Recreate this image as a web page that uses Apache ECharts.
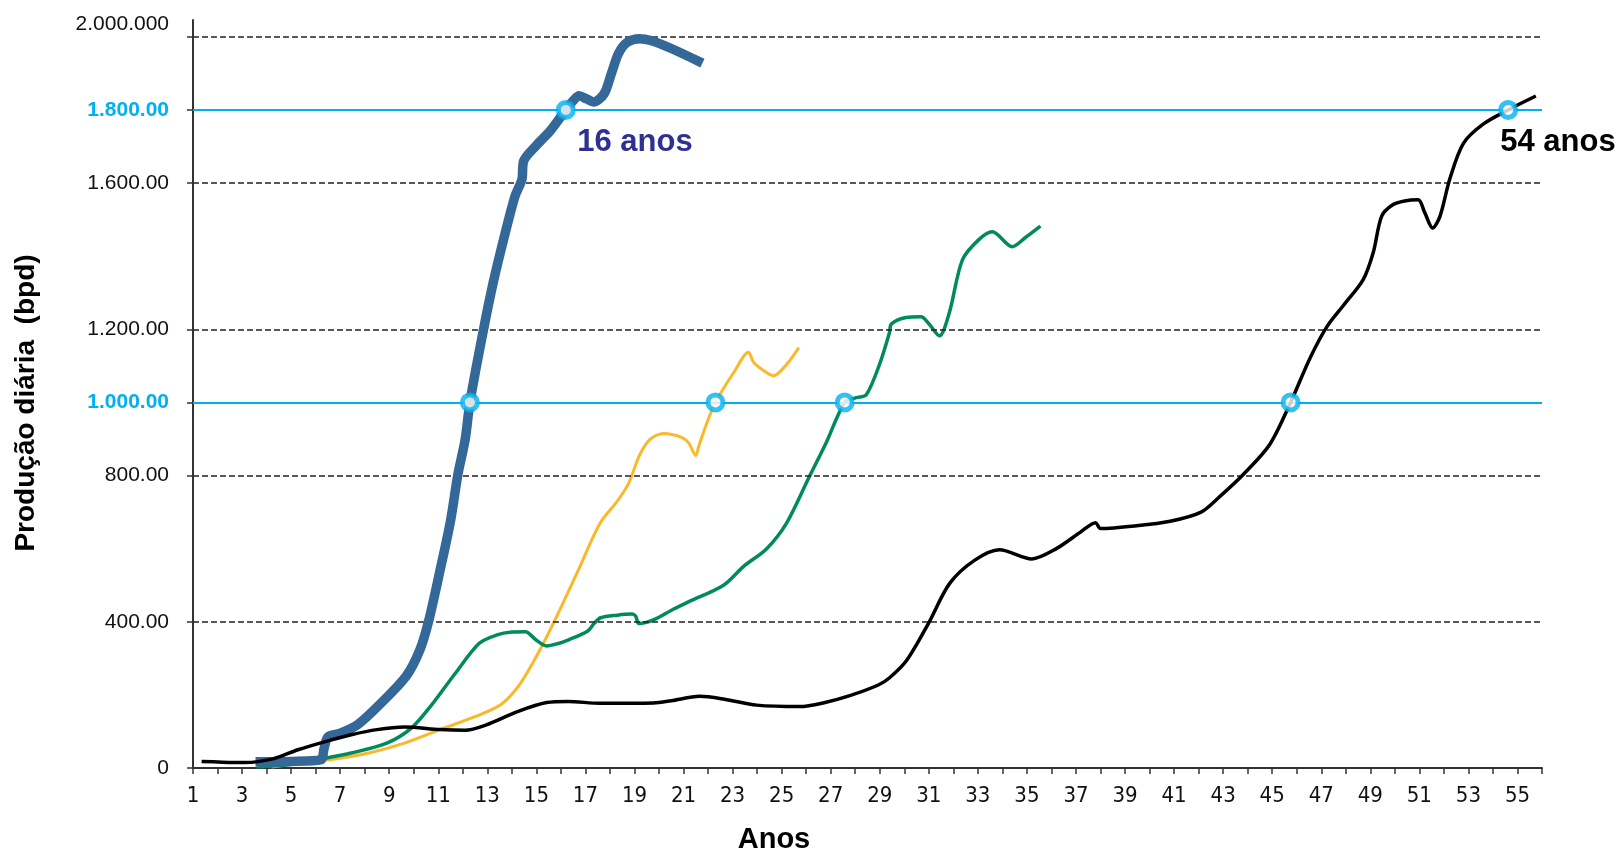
<!DOCTYPE html>
<html><head><meta charset="utf-8">
<script src="https://cdn.jsdelivr.net/npm/echarts@6/dist/echarts.min.js"></script>
<style>html,body{margin:0;padding:0;background:#fff}#c{width:1623px;height:852px}</style>
</head><body><div id="c"></div>
<script>
// ---- axis / label data ----
const yTickValues = [0, 400, 800, 1000, 1200, 1600, 1800, 2000];
const yLabelValues = [0, 400, 800, 1000, 1200, 1600, 1800, 2035];
const yLabelTexts = ['0', '400.00', '800.00', '1.000.00', '1.200.00', '1.600.00', '1.800.00', '2.000.000'];
const yHighlighted = [1000, 1800];
const dashedLevels = [400, 800, 1200, 1600, 2000];
const cyanLevels = [1000, 1800];
const xMin = 1, xMax = 56;

// ---- series data: [ano, produção] ----
const blueData = [[3.55,17],[5.0,18],[6.2,22],[6.35,55],[6.5,85],[7.0,95],[7.7,118],[8.6,173],[9.7,252],[10.25,323],[10.6,400],[11.07,540],[11.5,676],[11.8,803],[12.1,900],[12.29,1000],[12.82,1191],[13.25,1331],[13.69,1453],[14.13,1564],[14.41,1610],[14.48,1660],[15.0,1703],[15.58,1744],[16.2,1800],[16.5,1825],[16.74,1839],[17.05,1830],[17.33,1822],[17.76,1844],[18.06,1900],[18.35,1955],[18.7,1985],[19.2,1995],[19.66,1990],[20.5,1968],[21.77,1928]];
const yellowData = [[4.2,3],[5.28,12],[6.72,24],[8.17,41],[9.62,68],[11.07,105],[12.52,141],[13.54,173],[14.26,223],[14.84,286],[15.42,359],[16.14,459],[16.7,540],[17.6,670],[18.3,730],[18.77,780],[19.2,855],[19.65,900],[20.2,915],[20.9,905],[21.2,890],[21.5,855],[21.62,880],[21.9,935],[22.3,1000],[23.04,1081],[23.65,1137],[23.85,1110],[24.2,1090],[24.66,1073],[25.2,1104],[25.7,1150]];
const greenData = [[3.6,3],[5.0,10],[6.43,27],[7.45,41],[8.9,68],[9.9,109],[10.78,177],[11.65,255],[12.67,341],[13.39,364],[14.0,372],[14.55,373],[14.99,350],[15.42,334],[15.86,340],[16.29,350],[17.08,374],[17.35,395],[17.62,411],[18.3,418],[18.9,421],[19.05,415],[19.18,395],[19.77,405],[20.6,435],[21.22,455],[22.63,500],[23.44,551],[24.39,600],[25.2,670],[26.15,800],[26.83,892],[27.57,1000],[28.04,1013],[28.45,1021],[28.99,1104],[29.4,1192],[29.47,1214],[30.07,1232],[30.68,1234],[31.0,1215],[31.43,1182],[31.83,1244],[32.37,1390],[33.05,1446],[33.59,1467],[34.4,1426],[34.94,1451],[35.55,1482]];
const blackData = [[1.35,18],[2.2,16],[3.1,15],[4.26,25],[5.28,50],[6.43,73],[7.45,91],[8.5,105],[9.62,112],[11.07,105],[12.09,103],[12.96,118],[14.26,155],[15.42,179],[16.29,182],[17.59,177],[19.77,178],[20.5,184],[21.65,196],[22.67,188],[23.98,172],[25.74,168],[26.69,178],[27.78,198],[28.94,227],[29.4,247],[30.1,295],[30.98,395],[31.85,505],[32.86,568],[33.88,597],[35.2,572],[36.2,600],[37.22,647],[37.8,671],[38.0,655],[39.39,662],[40.84,675],[42.1,700],[42.87,743],[43.85,805],[44.9,885],[45.75,1000],[46.54,1121],[47.22,1206],[47.9,1265],[48.71,1336],[49.12,1410],[49.46,1509],[49.9,1540],[50.4,1551],[50.95,1554],[51.22,1519],[51.54,1477],[51.84,1509],[52.24,1611],[52.79,1708],[53.6,1761],[54.62,1800],[55.75,1838]];
const markerPoints = [[12.29,1000],[16.2,1800],[22.3,1000],[27.57,1000],[45.75,1000],[54.62,1800]];

const yTitle = 'Produção diária  (bpd)';
const xTitle = 'Anos';
const note16 = '16 anos';
const note54 = '54 anos';

const FONT = "'Liberation Sans', Arial, sans-serif";
const NARROW = "'Liberation Sans Narrow', 'Arial Narrow', 'DejaVu Sans Condensed', 'Liberation Sans', sans-serif";
const chart = echarts.init(document.getElementById('c'), null, {renderer: 'canvas'});

function lineSeries(name, data, color, width, z) {
  return {name, type: 'line', data, symbol: 'none', smooth: 0.3, z,
    lineStyle: {color, width, cap: 'butt', join: 'round'}, silent: true};
}

chart.setOption({
  animation: false,
  backgroundColor: '#fff',
  grid: {left: 193, right: 81, top: 20, bottom: 84},
  xAxis: {
    type: 'value', min: xMin, max: xMax, interval: 1,
    axisLine: {show: true, onZero: false, lineStyle: {color: '#333', width: 2}},
    axisTick: {show: true, length: 6, lineStyle: {color: '#333', width: 1.5}},
    axisLabel: {
      fontFamily: NARROW, fontSize: 22, color: '#111', margin: 17,
      formatter: v => (v % 2 === 1 ? String(v) : '')
    },
    splitLine: {show: false}
  },
  yAxis: {
    type: 'value', min: 0, max: 2046,
    axisLine: {show: true, onZero: false, lineStyle: {color: '#333', width: 2}},
    axisTick: {show: true, length: 6, customValues: yTickValues, lineStyle: {color: '#333', width: 1.5}},
    axisLabel: {
      customValues: yLabelValues, margin: 24,
      fontFamily: FONT, fontSize: 21, color: '#111',
      formatter: v => {
        const i = yLabelValues.indexOf(v);
        const t = i >= 0 ? yLabelTexts[i] : '';
        return yHighlighted.indexOf(v) >= 0 ? '{hl|' + t + '}' : t;
      },
      rich: {hl: {color: '#00B0F0', fontWeight: 'bold', fontSize: 21, fontFamily: FONT}}
    },
    splitLine: {show: false}
  },
  series: [
    {type: 'line', data: [], z: 1, silent: true,
      markLine: {silent: true, symbol: ['none', 'none'], label: {show: false},
        lineStyle: {color: '#222', width: 1.5, type: [6, 3]},
        data: dashedLevels.map(v => ({yAxis: v}))}},
    {type: 'line', data: [], z: 1, silent: true,
      markLine: {silent: true, symbol: ['none', 'none'], label: {show: false},
        lineStyle: {color: '#00B0F0', width: 2, type: 'solid'},
        data: cyanLevels.map(v => ({yAxis: v}))}},
    lineSeries('amarelo', yellowData, '#FBB829', 3, 3),
    lineSeries('verde', greenData, '#008A5E', 3.5, 4),
    lineSeries('azul', blueData, '#346899', 9.5, 5),
    lineSeries('preto', blackData, '#000000', 3.5, 6),
    {type: 'scatter', data: markerPoints, z: 10, symbol: 'circle', symbolSize: 15, silent: true,
      itemStyle: {color: '#ffffff', borderColor: '#00B0F0', borderWidth: 5}}
  ],
  graphic: [
    {type: 'text', x: 26, y: 403, rotation: Math.PI / 2, z: 100,
      style: {text: yTitle, fill: '#000', font: "bold 28px 'Liberation Sans', Arial, sans-serif", textAlign: 'center', textVerticalAlign: 'middle'}},
    {type: 'text', x: 774, y: 840, z: 100,
      style: {text: xTitle, fill: '#000', font: "bold 29px 'Liberation Sans', Arial, sans-serif", textAlign: 'center', textVerticalAlign: 'middle'}},
    {type: 'text', x: 635, y: 142, z: 100,
      style: {text: note16, fill: '#2E3192', font: "bold 31px 'Liberation Sans', Arial, sans-serif", textAlign: 'center', textVerticalAlign: 'middle'}},
    {type: 'text', x: 1558, y: 142, z: 100,
      style: {text: note54, fill: '#000', font: "bold 31px 'Liberation Sans', Arial, sans-serif", textAlign: 'center', textVerticalAlign: 'middle'}}
  ]
});
</script>
</body></html>
